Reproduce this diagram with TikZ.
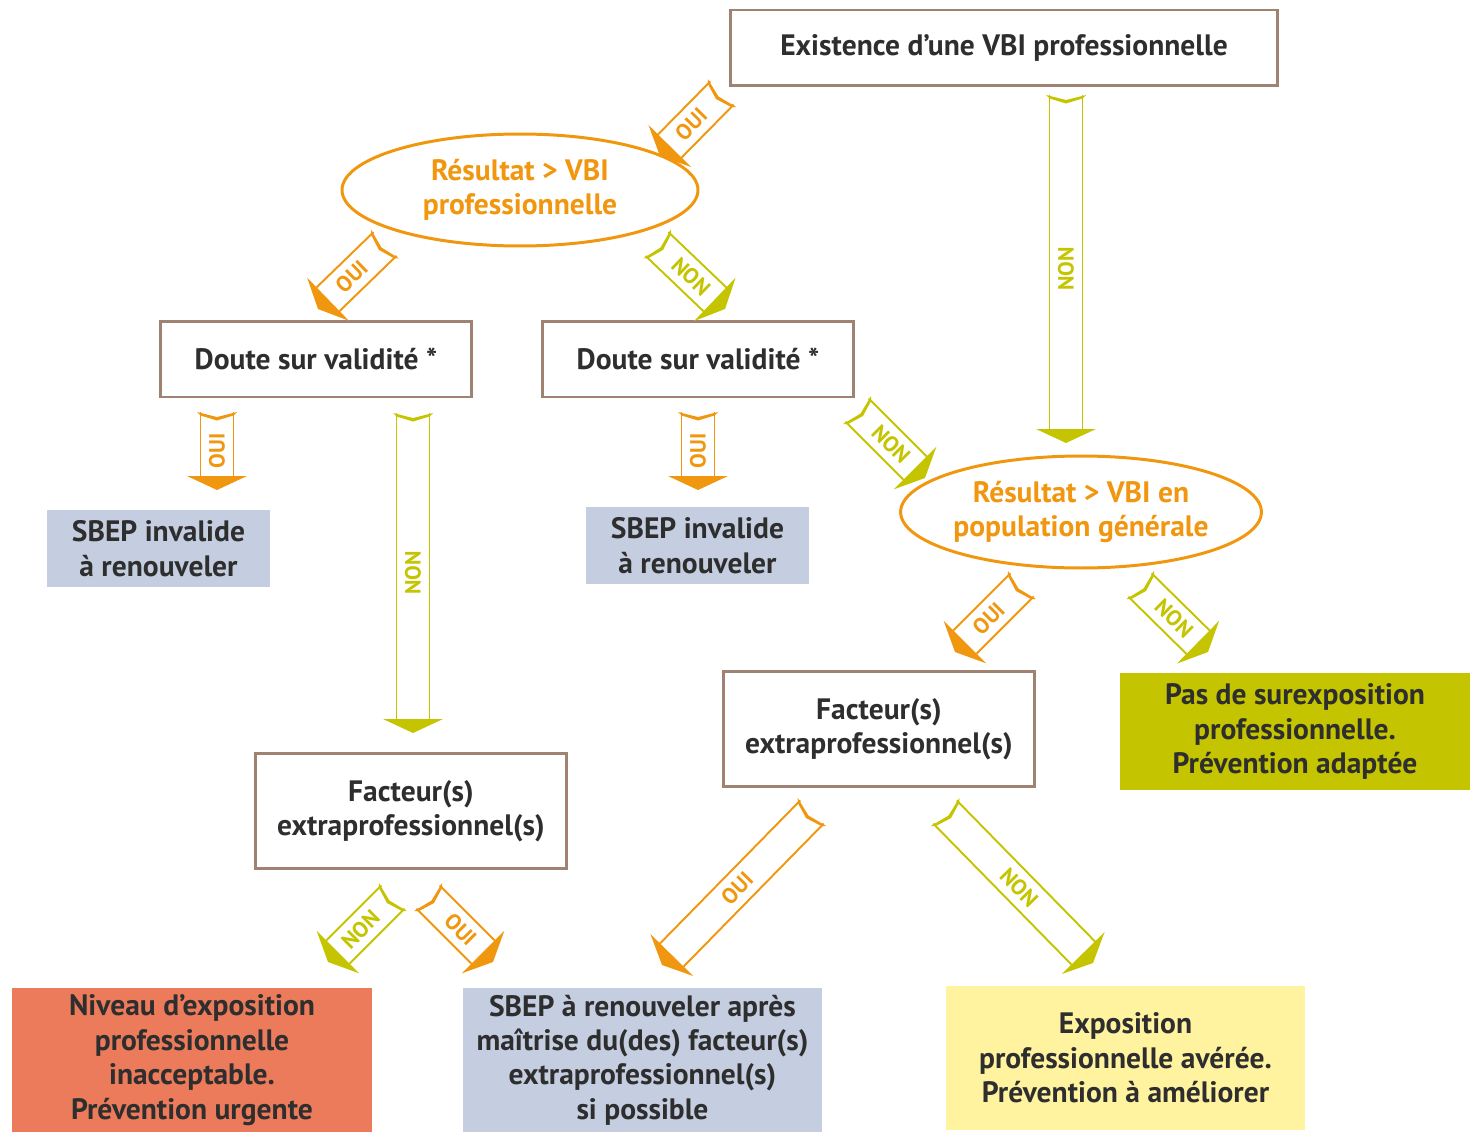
\documentclass[tikz,border=0pt]{standalone}
\usepackage{fontspec}
\setmainfont{PT Sans}
\usetikzlibrary{shapes.geometric}
\usetikzlibrary{calc}

\definecolor{oui}{HTML}{F0960F}
\definecolor{non}{HTML}{C4C400}
\definecolor{frame}{HTML}{A08272}
\definecolor{ink}{HTML}{2E2E2E}
\definecolor{bluegrey}{HTML}{C5CEE0}
\definecolor{alarm}{HTML}{EB7B5B}
\definecolor{pale}{HTML}{FFF3A0}

% ribbon arrow: #1 tail, #2 tip, #3 colour, #4 label
\newcommand\ribbon[4]{%
  \coordinate (rb-base) at ($(#2)!0.28cm!(#1)$);
  \coordinate (rb-dip) at ($(#1)!0.1cm!(#2)$);
  \coordinate (rb-in) at ($(#1)!0.17cm!(#2)$);
  \coordinate (rb-tin) at ($(#1)!0.07cm!(#2)$);
  \draw[#3, line width=1.1pt]
    ($(rb-base)!0.33cm!90:(#2)$) -- ($(#1)!0.33cm!90:(#2)$)
    ($(rb-base)!0.33cm!-90:(#2)$) -- ($(#1)!0.33cm!-90:(#2)$);
  \fill[#3] ($(rb-base)!0.6cm!90:(#2)$) -- (#2)
    -- ($(rb-base)!0.6cm!-90:(#2)$) -- cycle;
  \fill[#3] ($(#1)!0.4cm!90:(#2)$) -- (rb-dip) -- ($(#1)!0.4cm!-90:(#2)$)
    -- ($(rb-tin)!0.33cm!-90:(#2)$) -- (rb-in)
    -- ($(rb-tin)!0.33cm!90:(#2)$) -- cycle;
  \path (#2) -- (#1) node[midway, sloped, text=#3, font=\bfseries\fontsize{12.5}{14}\selectfont] {#4};
}

\begin{document}
\begin{tikzpicture}[x=0.02cm, y=-0.02cm,
  font=\bfseries\fontsize{16.8}{19.6}\selectfont, text=ink,
  qbox/.style={draw=frame, line width=1.7pt, align=center, inner sep=0pt,
    minimum width=6.24cm, minimum height=1.52cm},
  qoval/.style={ellipse, draw=oui, line width=1.7pt, text=oui, align=center,
    inner sep=0pt, minimum width=7.12cm, minimum height=2.24cm},
  outcome/.style={align=center, inner sep=0pt, minimum width=7.2cm, minimum height=2.88cm}]
\useasboundingbox (0,0) rectangle (1470,1132);

% questions
\node[qbox, minimum width=10.96cm] (exist) at (1004,48) {Existence d’une VBI professionnelle};
\node[qoval] (vbipro) at (520,190) {Résultat > VBI\\professionnelle};
\node[qbox] (doutel) at (316,359) {Doute sur validité *};
\node[qbox] (doutem) at (698,359) {Doute sur validité *};
\node[qoval] (vbigen) at (1081,512) {Résultat > VBI en\\population générale};
\node[qbox, minimum height=2.3cm] (factr) at (879,729) {Facteur(s)\\extraprofessionnel(s)};
\node[qbox, minimum height=2.3cm] (factl) at (411,811) {Facteur(s)\\extraprofessionnel(s)};

% outcomes
\node[outcome, fill=bluegrey, minimum width=4.46cm, minimum height=1.54cm] (invl) at (158.5,548.5) {SBEP invalide\\à renouveler};
\node[outcome, fill=bluegrey, minimum width=4.46cm, minimum height=1.54cm] (invm) at (697.5,545.5) {SBEP invalide\\à renouveler};
\node[outcome, fill=non, minimum width=7cm, minimum height=2.34cm] (nosur) at (1295,731.5) {Pas de surexposition\\professionnelle.\\Prévention adaptée};
\node[outcome, fill=alarm] (urgent) at (192,1060) {Niveau d’exposition\\professionnelle\\inacceptable.\\Prévention urgente};
\node[outcome, fill=bluegrey] (later) at (642.5,1060) {SBEP à renouveler après\\maîtrise du(des) facteur(s)\\extraprofessionnel(s)\\si possible};
\node[outcome, fill=pale] (avere) at (1125.5,1058) {Exposition\\professionnelle avérée.\\Prévention à améliorer};

% arrow ends
\coordinate (exist-oui-a) at (722,93);
\coordinate (exist-oui-b) at (660,156);
\coordinate (exist-non-a) at (1066,95);
\coordinate (exist-non-b) at (1066,443);
\coordinate (vbipro-oui-a) at (385,244);
\coordinate (vbipro-oui-b) at (318,309);
\coordinate (vbipro-non-a) at (657,244);
\coordinate (vbipro-non-b) at (725,309);
\coordinate (doutel-oui-a) at (217,412);
\coordinate (doutel-oui-b) at (217,490);
\coordinate (doutel-non-a) at (413,413);
\coordinate (doutel-non-b) at (413,733);
\coordinate (doutem-oui-a) at (698,412);
\coordinate (doutem-oui-b) at (698,490);
\coordinate (doutem-non-a) at (857,410);
\coordinate (doutem-non-b) at (925,478);
\coordinate (vbigen-oui-a) at (1022,585);
\coordinate (vbigen-oui-b) at (955,652);
\coordinate (vbigen-non-a) at (1140,585);
\coordinate (vbigen-non-b) at (1208,652);
\coordinate (factr-oui-a) at (812,812);
\coordinate (factr-oui-b) at (662,965);
\coordinate (factr-non-a) at (945,812);
\coordinate (factr-non-b) at (1093,963);
\coordinate (factl-non-a) at (393,897);
\coordinate (factl-non-b) at (328,962);
\coordinate (factl-oui-a) at (428,897);
\coordinate (factl-oui-b) at (493,962);

% arrows
\ribbon{exist-oui-a}{exist-oui-b}{oui}{OUI}
\ribbon{exist-non-a}{exist-non-b}{non}{NON}
\ribbon{vbipro-oui-a}{vbipro-oui-b}{oui}{OUI}
\ribbon{vbipro-non-a}{vbipro-non-b}{non}{NON}
\ribbon{doutel-oui-a}{doutel-oui-b}{oui}{OUI}
\ribbon{doutel-non-a}{doutel-non-b}{non}{NON}
\ribbon{doutem-oui-a}{doutem-oui-b}{oui}{OUI}
\ribbon{doutem-non-a}{doutem-non-b}{non}{NON}
\ribbon{vbigen-oui-a}{vbigen-oui-b}{oui}{OUI}
\ribbon{vbigen-non-a}{vbigen-non-b}{non}{NON}
\ribbon{factr-oui-a}{factr-oui-b}{oui}{OUI}
\ribbon{factr-non-a}{factr-non-b}{non}{NON}
\ribbon{factl-non-a}{factl-non-b}{non}{NON}
\ribbon{factl-oui-a}{factl-oui-b}{oui}{OUI}
\end{tikzpicture}
\end{document}
